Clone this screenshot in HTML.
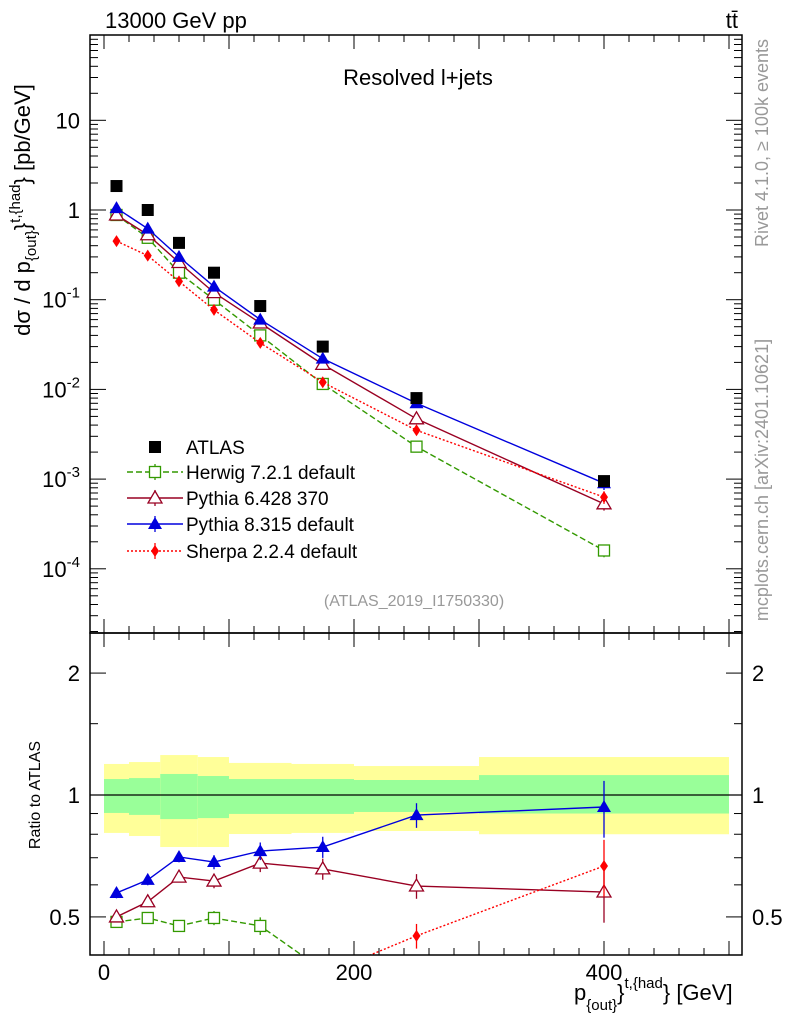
<!DOCTYPE html>
<html><head><meta charset="utf-8"><style>
body{margin:0;background:#fff;overflow:hidden}
svg{display:block;font-family:"Liberation Sans",sans-serif}
</style></head><body>
<svg id="c" width="786" height="1024" viewBox="0 0 786 1024">
<defs>
<clipPath id="ct"><rect x="90" y="35" width="652" height="598"/></clipPath>
<clipPath id="cr"><rect x="90" y="633" width="652" height="322"/></clipPath>
</defs>
<g id="bands" clip-path="url(#cr)"></g>
<g id="marks"></g>
<rect x="90" y="35" width="652" height="598" fill="none" stroke="#000" stroke-width="1.5"/>
<rect x="90" y="633" width="652" height="322" fill="none" stroke="#000" stroke-width="1.5"/>
<g id="axes"></g>
<text x="105" y="28" font-size="22">13000 GeV pp</text>
<text x="738" y="28" font-size="22" text-anchor="end">tt̄</text>
<text x="418" y="85" font-size="22" text-anchor="middle">Resolved l+jets</text>
<text x="414" y="606" font-size="16" fill="#999" text-anchor="middle">(ATLAS_2019_I1750330)</text>
<text transform="translate(768,143) rotate(-90)" font-size="18" fill="#999" text-anchor="middle">Rivet 4.1.0, ≥ 100k events</text>
<text transform="translate(768,480) rotate(-90)" font-size="18" fill="#999" text-anchor="middle">mcplots.cern.ch [arXiv:2401.10621]</text>
<text transform="translate(30,210) rotate(-90)" font-size="22" text-anchor="middle">dσ / d p<tspan font-size="15" dy="6">{out}</tspan><tspan font-size="22" dy="-6">}</tspan><tspan font-size="15" dy="-10">t,{had</tspan><tspan font-size="22" dy="10">} [pb/GeV]</tspan></text>
<text transform="translate(40,795) rotate(-90)" font-size="16" text-anchor="middle">Ratio to ATLAS</text>
<text x="574" y="1000" font-size="22">p<tspan font-size="15" dy="10">{out}</tspan><tspan font-size="22" dy="-10">}</tspan><tspan font-size="15" dy="-12">t,{had</tspan><tspan font-size="22" dy="12">} [GeV]</tspan></text>
<g id="legend"></g>
</svg>
<script>
const xs=[10,35,60,88,125,175,250,400];
const atlas=[1.85,1.0,0.43,0.2,0.085,0.03,0.008,0.00095];
const herwig=[0.88,0.49,0.2,0.1,0.04,0.0115,0.0023,0.00016];
const py6=[0.88,0.53,0.26,0.12,0.055,0.019,0.0047,0.00053];
const py8=[1.05,0.62,0.3,0.14,0.06,0.022,0.007,0.0009];
const sherpa=[0.45,0.31,0.16,0.077,0.033,0.012,0.0035,0.00063];
const rHerwig=[0.486,0.497,0.475,0.497,0.475,0.37,0.29,0.17];
const rPy6=[0.5,0.545,0.627,0.613,0.679,0.657,0.596,0.576];
const rPy8=[0.573,0.617,0.703,0.683,0.727,0.744,0.892,0.934];
const rSherpa=[0.24,0.29,0.33,0.35,0.36,0.36,0.449,0.668];
const relErr=[0.03,0.03,0.03,0.04,0.05,0.06,0.07,0.16];
const binEdges=[0,20,45,75,100,150,200,300,500];
const yelLo=[0.806,0.792,0.744,0.744,0.801,0.806,0.815,0.80];
const yelHi=[1.193,1.206,1.255,1.241,1.2,1.193,1.179,1.241];
const grnLo=[0.903,0.893,0.872,0.877,0.898,0.898,0.908,0.90];
const grnHi=[1.095,1.101,1.127,1.114,1.095,1.095,1.089,1.12];
const xTicks=[0,200,400];
const yTicks=[10,1,0.1,0.01,0.001,0.0001];
const yTickLabels=["10","1","10<sup>-1</sup>","10<sup>-2</sup>","10<sup>-3</sup>","10<sup>-4</sup>"];
const rTicks=[2,1,0.5];

const NS="http://www.w3.org/2000/svg";
const X=v=>104+v*1.25;
const Y=v=>210-Math.log10(v)*89.7;
const R=v=>795-Math.log10(v)*405;
function mk(p,t,a){const e=document.createElementNS(NS,t);for(const k in a)e.setAttribute(k,a[k]);p.appendChild(e);return e;}
const bands=document.getElementById('bands'),marks=document.getElementById('marks'),axes=document.getElementById('axes'),leg=document.getElementById('legend');
for(let i=0;i<8;i++){
 const x0=X(binEdges[i]),w=X(binEdges[i+1])-x0;
 let e=mk(bands,'rect',{x:x0,y:R(yelHi[i]),width:w,height:R(yelLo[i])-R(yelHi[i]),fill:'#ffff99'});
 
 
 e=mk(bands,'rect',{x:x0,y:R(grnHi[i]),width:w,height:R(grnLo[i])-R(grnHi[i]),fill:'#99ff99'});
 
 
}
mk(bands,'line',{x1:90,x2:742,y1:R(1),y2:R(1),stroke:'#000','stroke-width':1.2});
function marker(g,type,x,y,col){
 let e;
 if(type==='sq')e=mk(g,'rect',{x:x-6,y:y-6,width:12,height:12,fill:'#000'});
 else if(type==='osq')e=mk(g,'rect',{x:x-5.5,y:y-5.5,width:11,height:11,fill:'#fff',stroke:col,'stroke-width':1.3});
 else if(type==='otri')e=mk(g,'path',{d:`M${x},${y-7}L${x+7},${y+5}L${x-7},${y+5}Z`,fill:'#fff',stroke:col,'stroke-width':1.3});
 else if(type==='tri')e=mk(g,'path',{d:`M${x},${y-7}L${x+7},${y+5}L${x-7},${y+5}Z`,fill:col});
 else e=mk(g,'path',{d:`M${x},${y-6}L${x+4},${y}L${x},${y+6}L${x-4},${y}Z`,fill:col});
 return e;
}
const series=[
 {n:'herwig',v:herwig,r:rHerwig,c:'#339900',m:'osq',d:'6,3',l:'Herwig 7.2.1 default'},
 {n:'pythia6',v:py6,r:rPy6,c:'#990022',m:'otri',d:'',l:'Pythia 6.428 370'},
 {n:'pythia8',v:py8,r:rPy8,c:'#0000dd',m:'tri',d:'',l:'Pythia 8.315 default'},
 {n:'sherpa',v:sherpa,r:rSherpa,c:'#ff0000',m:'dia',d:'2,2',l:'Sherpa 2.2.4 default'}];
const gt=mk(marks,'g',{'clip-path':'url(#ct)'}),gr=mk(marks,'g',{'clip-path':'url(#cr)'});
series.forEach(s=>{
 [[gt,s.v,Y,'main'],[gr,s.r,R,'ratio']].forEach(([g,vals,F,tag])=>{
  const pl=mk(g,'polyline',{points:xs.map((x,i)=>X(x)+','+F(vals[i])).join(' '),fill:'none',stroke:s.c,'stroke-width':1.4,'stroke-dasharray':s.d});
  
  
  xs.forEach((x,i)=>{
   const e=relErr[i]*vals[i];
   mk(g,'line',{x1:X(x),x2:X(x),y1:F(vals[i]+e),y2:F(Math.max(vals[i]-e,1e-9)),stroke:s.c,'stroke-width':1.3});
   const m=marker(g,s.m,X(x),F(vals[i]),s.c);
   
   
  });
 });
});
xs.forEach((x,i)=>{const m=marker(gt,'sq',X(x),Y(atlas[i]),'#000');
 
 });
function tk(x1,y1,x2,y2){mk(axes,'line',{x1,y1,x2,y2,stroke:'#000','stroke-width':1});}
for(let v=0;v<=500;v+=20){const x=X(v),L=v%100===0?14:7;tk(x,633,x,633-L);tk(x,35,x,35+L);tk(x,955,x,955-L);tk(x,633,x,633+L);}
for(let d=-5;d<=2;d++)for(let k=1;k<10;k++){const y=Y(k*Math.pow(10,d));if(y<35||y>633)continue;const L=k===1?16:8;tk(90,y,90+L,y);tk(742,y,742-L,y);}
[0.5,0.6,0.7,0.8,0.9,1,1.5,2].forEach(v=>{const y=R(v);const L=(v===0.5||v===1||v===2)?16:8;tk(90,y,90+L,y);tk(742,y,742-L,y);});
xTicks.forEach(v=>{const t=mk(axes,'text',{x:X(v),y:980,'font-size':22,'text-anchor':'middle'});t.textContent=v;
 
 });
yTicks.forEach((v,i)=>{const t=mk(axes,'text',{x:80,y:Y(v)+8,'font-size':22,'text-anchor':'end'});
 const p=yTickLabels[i].split('<sup>');t.textContent=p[0];
 if(p[1]){const s=mk(t,'tspan',{dy:-10,'font-size':15});s.textContent=p[1].replace('</sup>','');}
 
 });
rTicks.forEach(v=>{[[80,'end'],[752,'start']].forEach(([x,a])=>{const t=mk(axes,'text',{x,y:R(v)+8,'font-size':22,'text-anchor':a});t.textContent=v;
 
 });});
const ly=[447,472,498,524,551];
const lm=mk(leg,'rect',{x:149,y:ly[0]-6,width:12,height:12,fill:'#000'});


let lt=mk(leg,'text',{x:186,y:ly[0]+7,'font-size':19});lt.textContent='ATLAS';


series.forEach((s,i)=>{const y=ly[i+1];
 mk(leg,'line',{x1:127,x2:183,y1:y,y2:y,stroke:s.c,'stroke-width':1.4,'stroke-dasharray':s.d});
 mk(leg,'line',{x1:155,x2:155,y1:y-8,y2:y+8,stroke:s.c,'stroke-width':1.3});
 marker(leg,s.m,155,y,s.c);
 const t=mk(leg,'text',{x:186,y:y+7,'font-size':19});t.textContent=s.l;
 
 });
</script>
</body></html>
